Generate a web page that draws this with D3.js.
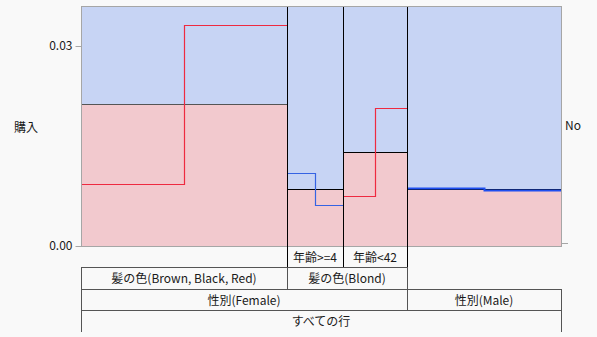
<!DOCTYPE html>
<html>
<head>
<meta charset="utf-8">
<script src="https://cdnjs.cloudflare.com/ajax/libs/d3/7.8.5/d3.min.js"></script>
<style>
  body { margin: 0; background: #f9f9f9; }
  svg { display: block; }
  text { font-family: "Noto Sans CJK JP", "Noto Sans", sans-serif; font-size: 12px; fill: #1a1a1a; }
</style>
</head>
<body>
<div id="chart"></div>
<script>
// leaves of the partition tree, left to right
var leafNames = ["髪の色(Brown, Black, Red)", "年齢>=4", "年齢<42", "性別(Male)"];
var leafCounts = [206, 56, 64, 154];
var yesRate = [0.02125, 0.0085, 0.01405, 0.0085];
var stepLeft = [0.0093, 0.0109, 0.00745, 0.00865];
var stepRight = [0.0331, 0.0061, 0.02065, 0.0084];
var yTicks = [0, 0.03];

// label rows below the plot: [label, first leaf, last leaf]
var row1 = [["年齢>=4", 1, 1], ["年齢<42", 2, 2]];
var row2 = [["髪の色(Brown, Black, Red)", 0, 0], ["髪の色(Blond)", 1, 2]];
var row3 = [["性別(Female)", 0, 2], ["性別(Male)", 3, 3]];
var row4 = [["すべての行", 0, 3]];

var W = 597, H = 337;
var pLeft = 81, pRight = 561, pTop = 6, pBottom = 246;

var svg = d3.select("#chart").append("svg")
    .attr("width", W)
    .attr("height", H);

var cum = [0];
leafCounts.forEach(function(c, i) { cum.push(cum[i] + c); });

var x = d3.scaleLinear().domain([0, cum[cum.length - 1]]).range([pLeft, pRight]);
var y = d3.scaleLinear().domain([0, 0.036]).range([pBottom, pTop]);

var leaves = leafCounts.map(function(c, i) {
    return { i: i, x0: x(cum[i]), x1: x(cum[i + 1]), rate: yesRate[i], l: stepLeft[i], r: stepRight[i] };
});

// blue background
svg.append("rect")
    .attr("x", pLeft).attr("y", pTop)
    .attr("width", pRight - pLeft).attr("height", pBottom - pTop)
    .attr("fill", "#c7d4f4");

// pink part
svg.selectAll("rect.yes")
    .data(leaves)
    .join("rect")
    .attr("class", "yes")
    .attr("x", function(d) { return d.x0; })
    .attr("y", function(d) { return y(d.rate); })
    .attr("width", function(d) { return d.x1 - d.x0; })
    .attr("height", function(d) { return pBottom - y(d.rate); })
    .attr("fill", "#f2c9ce");

// boundary at top of pink
svg.selectAll("line.sep")
    .data(leaves)
    .join("line")
    .attr("x1", function(d) { return d.x0; })
    .attr("x2", function(d) { return d.x1; })
    .attr("y1", function(d) { return Math.round(y(d.rate)) + 0.5; })
    .attr("y2", function(d) { return Math.round(y(d.rate)) + 0.5; })
    .attr("stroke", function(d) { return d.i == 0 ? "#555" : "#000"; })
    .attr("stroke-width", 1);

// step lines
var stepColors = ["#ee2a40", "#3563e3", "#ee2a40", "#1f4ff0"];
svg.selectAll("path.step")
    .data(leaves)
    .join("path")
    .attr("fill", "none")
    .attr("stroke", function(d) { return stepColors[d.i]; })
    .attr("stroke-width", function(d) { return d.i == 3 ? 2 : 1.2; })
    .attr("d", function(d) {
        var m = (d.x0 + d.x1) / 2;
        var yl = Math.round(y(d.l)) + 0.5, yr = Math.round(y(d.r)) + 0.5;
        var xm = Math.round(m) + 0.5;
        return "M" + d.x0 + "," + yl + "H" + xm + "V" + yr + "H" + d.x1;
    });

// vertical dividers between leaves
svg.selectAll("line.div")
    .data(leaves.slice(1))
    .join("line")
    .attr("x1", function(d) { return Math.round(d.x0) + 0.5; })
    .attr("x2", function(d) { return Math.round(d.x0) + 0.5; })
    .attr("y1", pTop)
    .attr("y2", pBottom)
    .attr("stroke", "#000");

// frame
svg.append("rect")
    .attr("x", pLeft + 0.5).attr("y", pTop + 0.5)
    .attr("width", pRight - pLeft).attr("height", pBottom - pTop)
    .attr("fill", "none")
    .attr("stroke", "#a6a6a6");

// y axis
var yAxis = d3.axisLeft(y).tickValues(yTicks).tickFormat(d3.format(".2f")).tickSize(6).tickPadding(3);
var ga = svg.append("g").attr("transform", "translate(" + (pLeft + 0.5) + ",0)").call(yAxis);
ga.select(".domain").remove();
ga.selectAll("line").attr("stroke", "#a6a6a6");
ga.selectAll("text").attr("fill", "#1a1a1a").style("font-size", "12px")
    .style("font-family", "'Noto Sans CJK JP', sans-serif");

// right tick at bottom
svg.append("line")
    .attr("x1", pRight + 0.5).attr("x2", pRight + 7)
    .attr("y1", pBottom - 2.5).attr("y2", pBottom - 2.5)
    .attr("stroke", "#a6a6a6");

svg.append("text").attr("x", 14).attr("y", 128).attr("dy", "0.35em").text("購入");
svg.append("text").attr("x", 565).attr("y", 126).attr("dy", "0.35em").text("No");

// label table
var rowY = [pBottom, 267, 289, 310, 332];
var grid = "#555";

function drawRow(cells, r, boxed) {
    var y0 = rowY[r], y1 = rowY[r + 1];
    cells.forEach(function(c) {
        var a = x(cum[c[1]]), b = x(cum[c[2] + 1]);
        var xa = Math.round(a) + 0.5, xb = Math.round(b) + 0.5;
        if (boxed) {
            svg.append("line").attr("x1", xa).attr("x2", xb).attr("y1", y0 + 0.5).attr("y2", y0 + 0.5).attr("stroke", grid);
        }
        var col = boxed ? grid : "#000";
        svg.append("line").attr("x1", xa).attr("x2", xa).attr("y1", y0).attr("y2", y1).attr("stroke", col);
        svg.append("line").attr("x1", xb).attr("x2", xb).attr("y1", y0).attr("y2", y1).attr("stroke", col);
        svg.append("text")
            .attr("x", (a + b) / 2)
            .attr("y", (y0 + y1) / 2 + 1)
            .attr("dy", "0.35em")
            .attr("text-anchor", "middle")
            .text(c[0]);
    });
}

drawRow(row1, 0, false);
drawRow(row2, 1, true);
drawRow(row3, 2, true);
drawRow(row4, 3, true);
</script>
</body>
</html>
